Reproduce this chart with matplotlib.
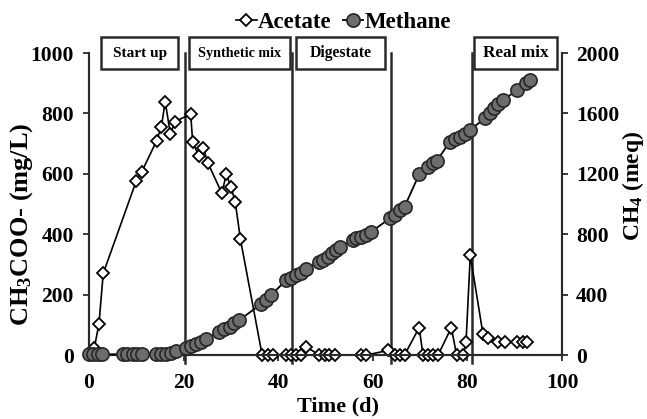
import matplotlib
matplotlib.use("Agg")
import matplotlib.pyplot as plt
from matplotlib.patches import Rectangle

# acetate (mg/L) vs time (d)
acetate_day = [1.1, 2.1, 3.0, 10.0, 11.1, 14.3, 15.3, 16.1, 17.2, 18.2,
               21.5, 21.9, 23.2, 24.2, 25.1, 28.1, 29.0, 30.0, 30.9, 32.0,
               36.6, 37.8, 38.8, 41.7, 42.7, 43.8, 44.9, 45.9, 48.7, 49.8,
               50.8, 52.1, 57.6, 58.6, 63.2, 64.6, 65.7, 66.7, 69.8, 70.6,
               71.7, 72.7, 73.8, 76.6, 77.7, 79.1, 79.7, 80.6, 83.3, 84.4,
               86.5, 87.9, 90.4, 91.7, 92.5]
acetate_val = [22, 103, 270, 577, 605, 710, 756, 839, 732, 773,
               798, 706, 659, 684, 637, 535, 599, 557, 508, 384,
               0, 0, 0, 0, 0, 0, 0, 27, 0, 0,
               0, 0, 0, 0, 15, 0, 0, 0, 91, 0,
               0, 0, 0, 91, 0, 0, 42, 330, 68, 58,
               44, 44, 43, 44, 44]

# cumulative methane (meq) vs time (d)
methane_day = [0, 0.9, 1.8, 2.8, 7.1, 8.1, 9.2, 10.2, 11.2, 14.1,
               15.2, 16.3, 17.3, 18.4, 20.5, 21.5, 22.6, 23.7, 24.7, 27.5,
               28.6, 29.7, 30.7, 31.8, 36.4, 37.4, 38.5, 41.7, 42.8, 43.8,
               44.9, 45.8, 48.7, 49.4, 50.5, 51.4, 52.3, 53.0, 55.8, 56.5,
               57.6, 58.6, 59.7, 63.6, 64.6, 65.7, 66.7, 69.8, 71.7, 72.7,
               73.5, 76.3, 77.3, 78.4, 79.4, 80.5, 83.7, 84.7, 85.7, 86.5,
               87.6, 90.5, 92.4, 93.2]
methane_val = [5, 5, 5, 5, 5, 5, 5, 5, 5, 8,
               8, 10, 12, 25, 44, 60, 73, 88, 104, 154,
               170, 187, 210, 232, 338, 364, 397, 497, 508, 530,
               545, 568, 618, 629, 651, 673, 695, 713, 762, 773,
               779, 795, 817, 905, 927, 960, 982, 1197, 1247, 1270,
               1285, 1413, 1428, 1446, 1464, 1490, 1567, 1605, 1634, 1662,
               1689, 1755, 1799, 1821]

phase_lines = [20.3, 42.9, 63.9, 80.9]
phase_labels = ["Start up", "Synthetic mix", "Digestate", "Real mix"]
phase_boxes = [(2.5, 18.9), (21.2, 42.4), (43.8, 62.5), (81.4, 98.9)]
phase_fontsizes = [11, 10.2, 11.3, 12.4]

plt.rcParams["font.family"] = "Liberation Serif"
plt.rcParams["font.weight"] = "bold"
plt.rcParams["mathtext.fontset"] = "custom"
plt.rcParams["mathtext.rm"] = "Liberation Serif:bold"
plt.rcParams["mathtext.bf"] = "Liberation Serif:bold"
plt.rcParams["mathtext.it"] = "Liberation Serif:bold"

dark = "#2b2b2b"
fig = plt.figure(figsize=(6.47, 4.19), dpi=100)
ax = fig.add_axes([0.1376, 0.1527, 0.7311, 0.7208])
ax2 = ax.twinx()

l1, = ax.plot(acetate_day, acetate_val, color="black", lw=1.2, marker="D",
              ms=6.5, mfc="white", mec="black", mew=1.3, label="Acetate",
              clip_on=False, zorder=3)
l2, = ax2.plot(methane_day, methane_val, color="black", lw=1.3, marker="o",
               ms=9.5, mfc="#6d6d6d", mec="#262626", mew=1.2, label="Methane",
               clip_on=False, zorder=3)

for d in phase_lines:
    ax.plot([d, d], [-25, 1000], color=dark, lw=1.8, clip_on=False, zorder=2)

for lab, (x0, x1), fs in zip(phase_labels, phase_boxes, phase_fontsizes):
    ax.add_patch(Rectangle((x0, 947), x1 - x0, 106, fill=True, fc="white",
                           ec=dark, lw=1.8, clip_on=False, zorder=4))
    ax.text((x0 + x1) / 2, 1000, lab, ha="center", va="center",
            fontsize=fs, fontweight="bold", zorder=5)

ax.set_xlim(0, 100)
ax.set_ylim(0, 1000)
ax2.set_ylim(0, 2000)
ax.set_xticks(range(0, 101, 20))
ax.set_yticks(range(0, 1001, 200))
ax2.set_yticks(range(0, 2001, 400))

for a in (ax, ax2):
    a.spines["top"].set_visible(False)
    for s in ("left", "right", "bottom"):
        a.spines[s].set_color(dark)
        a.spines[s].set_linewidth(1.5)
    a.tick_params(direction="out", length=4, width=1.3, color=dark,
                  labelsize=15.5, pad=7)
ax.tick_params(axis="x", pad=9)
ax2.tick_params(axis="y", pad=6)

ax.set_xlabel("Time (d)", fontsize=16, fontweight="bold")
ax.xaxis.set_label_coords(0.526, -0.138)
ax.set_ylabel(r"CH$_{3}$COO- (mg/L)", fontsize=19, fontweight="bold",
              va="center")
ax.yaxis.set_label_coords(-0.142, 0.434)
ax2.set_ylabel(r"CH$_{4}$ (meq)", fontsize=17, fontweight="bold",
               va="center")
ax2.yaxis.set_label_coords(1.151, 0.561)

fig.legend([l1, l2], ["Acetate", "Methane"], loc="center",
           bbox_to_anchor=(0.531, 0.947), ncol=2, frameon=False,
           handlelength=0.9, handletextpad=0.05, columnspacing=0.5,
           fontsize=16.5)

fig.savefig("out.png", dpi=100)
